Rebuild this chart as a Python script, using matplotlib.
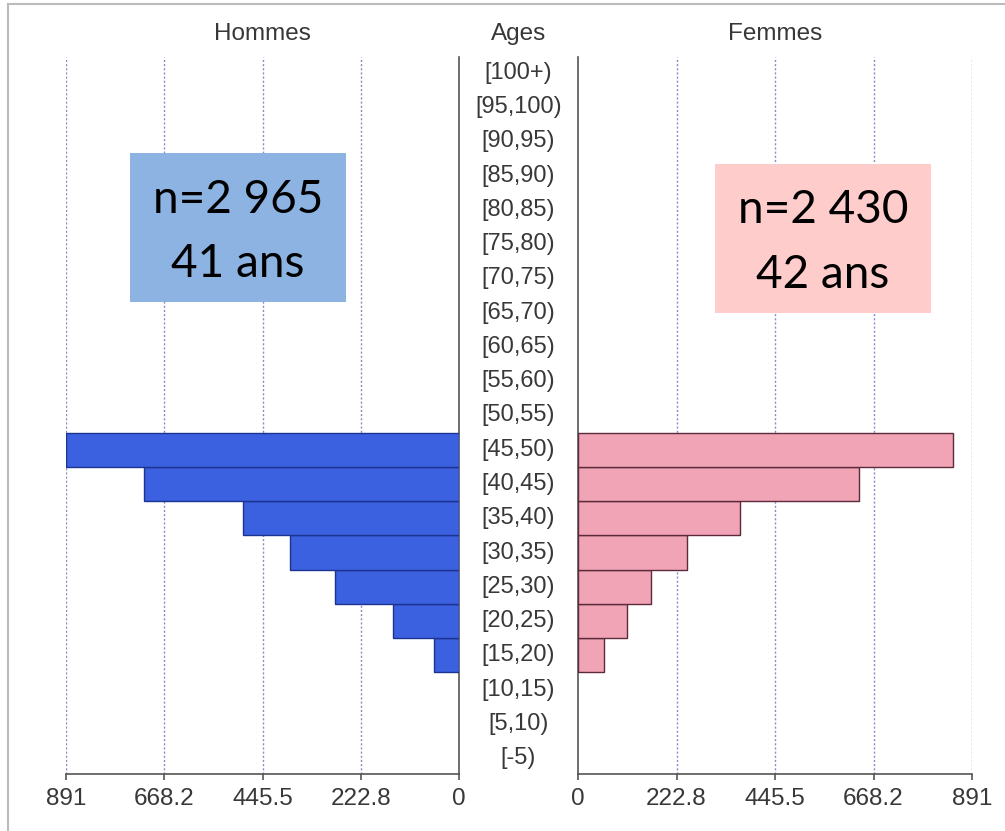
import matplotlib
matplotlib.use('Agg')
import matplotlib.pyplot as plt
import matplotlib.patches as mpatches
import matplotlib.transforms as mtransforms
import numpy as np

# age groups, bottom to top
ages = ['[-5)', '[5,10)', '[10,15)', '[15,20)', '[20,25)', '[25,30)', '[30,35)',
        '[35,40)', '[40,45)', '[45,50)', '[50,55)', '[55,60)', '[60,65)', '[65,70)',
        '[70,75)', '[75,80)', '[80,85)', '[85,90)', '[90,95)', '[95,100)', '[100+)']
hommes = [0, 0, 0, 57, 150, 280, 383, 490, 714, 891, 0, 0, 0, 0, 0, 0, 0, 0, 0, 0, 0]
femmes = [0, 0, 0, 59, 110, 165, 246, 367, 636, 847, 0, 0, 0, 0, 0, 0, 0, 0, 0, 0, 0]
ticks = [891, 668.25, 445.5, 222.75, 0]
tick_labels = ['891', '668.2', '445.5', '222.8', '0']
box_h = ['n=2 965', '41 ans']
box_f = ['n=2 430', '42 ans']

W, H = 1005, 831
fig = plt.figure(figsize=(W / 100, H / 100), dpi=100)
fig.patch.set_facecolor('white')

GRID = '#8a8ac8'
AX = '#555555'
TXT = '#383838'
LBL = 'Liberation Sans'

def fx(px):
    return px / W

def fy(py):
    return 1 - py / H

y = np.arange(len(ages))
ylim = (-0.467, 20.467)

ax_l = fig.add_axes([fx(66), fy(774), fx(393), fy(57) - fy(774)])
ax_r = fig.add_axes([fx(578), fy(774), fx(394), fy(57) - fy(774)])

# only draw non-empty groups so zero bars leave no edge line
h = np.array(hommes)
f = np.array(femmes)
ax_l.barh(y[h > 0], h[h > 0], height=1.0, color='#3b60e0', edgecolor='#1c3390', linewidth=1.0, zorder=3)
ax_r.barh(y[f > 0], f[f > 0], height=1.0, color='#f0a4b6', edgecolor='#5c2a3a', linewidth=1.0, zorder=3)

ax_l.set_xlim(891, 0)
ax_r.set_xlim(0, 891)

for ax, side in ((ax_l, 'right'), (ax_r, 'left')):
    ax.set_ylim(*ylim)
    ax.set_yticks([])
    ax.set_xticks(ticks)
    ax.set_xticklabels(tick_labels)
    for s in ('top', 'left', 'right'):
        ax.spines[s].set_visible(False)
    ax.spines[side].set_visible(True)
    ax.spines[side].set_color(AX)
    ax.spines['bottom'].set_color(AX)
    ax.spines[side].set_linewidth(1.2)
    ax.spines['bottom'].set_linewidth(1.2)
    ax.tick_params(axis='x', length=4, width=1.2, color=AX, pad=6,
                   labelsize=17.5, labelcolor=TXT)
    for lab in ax.get_xticklabels():
        lab.set_fontfamily(LBL)
    for t in ticks:
        if t != 0:
            ax.axvline(t, color=GRID, lw=1.0, ls=(0, (1.5, 1.5)), zorder=1)

# age labels in the centre column
trans = mtransforms.blended_transform_factory(fig.transFigure, ax_l.transData)
for yi, lab in zip(y, ages):
    ax_l.text(fx(518.5), yi, lab, transform=trans, ha='center', va='center',
              fontsize=17, color=TXT, fontfamily=LBL, clip_on=False)

fig.text(fx(262), fy(34), 'Hommes', ha='center', va='center', fontsize=17.5, color=TXT, fontfamily=LBL)
fig.text(fx(518.5), fy(34), 'Ages', ha='center', va='center', fontsize=17.5, color=TXT, fontfamily=LBL)
fig.text(fx(775), fy(34), 'Femmes', ha='center', va='center', fontsize=17.5, color=TXT, fontfamily=LBL)

# annotation boxes
fig.patches.append(mpatches.Rectangle((fx(130), fy(302)), fx(216), fy(153) - fy(302),
                                      transform=fig.transFigure, facecolor='#8db3e2',
                                      edgecolor='none', zorder=5))
fig.patches.append(mpatches.Rectangle((fx(715), fy(313)), fx(216), fy(164) - fy(313),
                                      transform=fig.transFigure, facecolor='#ffcccc',
                                      edgecolor='none', zorder=5))
for txt, py in zip(box_h, (213, 277)):
    fig.text(fx(238), fy(py), txt, ha='center', va='baseline', fontsize=33,
             fontfamily='Lato', color='black', zorder=6)
for txt, py in zip(box_f, (223, 288)):
    fig.text(fx(823), fy(py), txt, ha='center', va='baseline', fontsize=33,
             fontfamily='Lato', color='black', zorder=6)

# thin frame at top and left of the picture
fig.add_artist(plt.Line2D([fx(8), 1], [fy(4), fy(4)], transform=fig.transFigure, color='#bbbbbb', lw=1.5))
fig.add_artist(plt.Line2D([fx(8), fx(8)], [0, fy(4)], transform=fig.transFigure, color='#bbbbbb', lw=1.5))

fig.savefig('out.png', dpi=100, facecolor='white')
